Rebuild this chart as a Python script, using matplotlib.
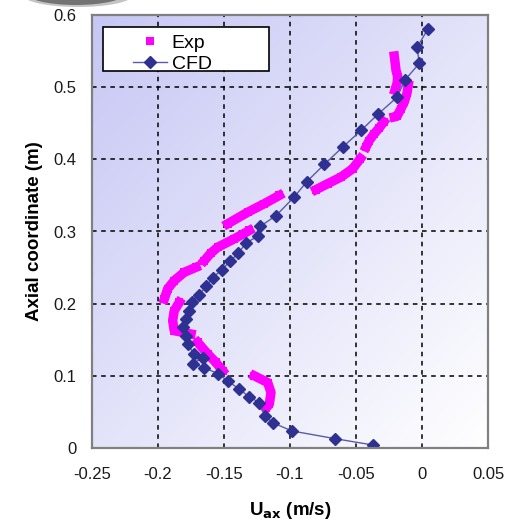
import numpy as np
import matplotlib
matplotlib.use("Agg")
import matplotlib.pyplot as plt
from matplotlib.patches import Rectangle, Ellipse
from matplotlib.lines import Line2D

plt.rcParams['font.family'] = ['Liberation Sans', 'DejaVu Sans']

# ---- data ----
cfd_u = [0.0043, -0.0038, -0.0020, -0.0129, -0.0189, -0.0331, -0.0462, -0.0601,
         -0.0740, -0.0873, -0.0967, -0.1106, -0.1227, -0.1240, -0.1333, -0.1392,
         -0.1452, -0.1517, -0.1586, -0.1636, -0.1687, -0.1745, -0.1763, -0.1788,
         -0.1808, -0.1788, -0.1775, -0.1725, -0.1661, -0.1737, -0.1649, -0.1543,
         -0.1472, -0.1384, -0.1308, -0.1233, -0.1189, -0.1131, -0.0985, -0.0657,
         -0.0374]
cfd_z = [0.580, 0.555, 0.533, 0.510, 0.486, 0.463, 0.440, 0.417,
         0.393, 0.369, 0.348, 0.322, 0.307, 0.294, 0.284, 0.270,
         0.259, 0.247, 0.236, 0.224, 0.2125, 0.202, 0.190, 0.179,
         0.167, 0.1556, 0.144, 0.130, 0.125, 0.117, 0.1115, 0.1025,
         0.093, 0.0815, 0.0708, 0.063, 0.0444, 0.035, 0.0236, 0.0129,
         0.0042]

# Experimental profile, read as dense runs (NaN separates runs)
nan = np.nan
exp_u = [-0.0210, -0.0197, -0.0184, -0.0189, -0.0205, nan,
         -0.0104, -0.0114, -0.0134, -0.0159, -0.0189, -0.0210, nan,
         -0.0290, -0.0326, -0.0361, -0.0400, -0.0424, nan,
         -0.0467, -0.0525, -0.0614, -0.0714, -0.0803, nan,
         -0.1081, -0.1195, -0.1320, -0.1472, nan,
         -0.1308, -0.1422, -0.1548, -0.1600, -0.1649, nan,
         -0.1712, -0.1801, -0.1877, -0.1927, -0.1952, nan,
         -0.1839, -0.1877, -0.1889, -0.1877, -0.1750, nan,
         -0.1699, -0.1623, -0.1561, -0.1510, nan,
         -0.1270, -0.1169, -0.1144, -0.1157, -0.1182]
exp_z = [0.5431, 0.5236, 0.5143, 0.5051, 0.4958, nan,
         0.5028, 0.4913, 0.4796, 0.4704, 0.4597, 0.4588, nan,
         0.4518, 0.4430, 0.4357, 0.4260, 0.4171, nan,
         0.4010, 0.3870, 0.3754, 0.3663, 0.3580, nan,
         0.3500, 0.3385, 0.3268, 0.3107, nan,
         0.3014, 0.2899, 0.2782, 0.2700, 0.2597, nan,
         0.2504, 0.2435, 0.2319, 0.2204, 0.2065, nan,
         0.2018, 0.1903, 0.1764, 0.1625, 0.1580, nan,
         0.1463, 0.1301, 0.1185, 0.1070, nan,
         0.1000, 0.0907, 0.0768, 0.0607, 0.0551]

x_ticks = [-0.25, -0.2, -0.15, -0.1, -0.05, 0, 0.05]
x_ticklabels = ['-0.25', '-0.2', '-0.15', '-0.1', '-0.05', '0', '0.05']
y_ticks = [0, 0.1, 0.2, 0.3, 0.4, 0.5, 0.6]
y_ticklabels = ['0', '0.1', '0.2', '0.3', '0.4', '0.5', '0.6']

W, H = 514, 521
fig = plt.figure(figsize=(W / 100, H / 100), dpi=100)
fig.patch.set_facecolor('white')

# grey swoosh at top-left
fig.patches.append(Ellipse((78 / W, 1 - (-5) / H), 110 / W, 24 / H,
                           transform=fig.transFigure, facecolor='#c4c4c4',
                           edgecolor='none', zorder=0))
fig.patches.append(Ellipse((76 / W, 1 - (-7) / H), 100 / W, 24 / H,
                           transform=fig.transFigure, facecolor='#737373',
                           edgecolor='none', zorder=0))

ax = fig.add_axes([92 / W, 1 - 448 / H, 396 / W, 433 / H])

# gradient background
c0 = np.array([0.78, 0.78, 0.96])
c1 = np.array([1.0, 1.0, 1.0])
n = 200
xx, yy = np.meshgrid(np.linspace(0, 1, n), np.linspace(1, 0, n))
t = np.clip((xx + (1 - yy)) / 2.0, 0, 1)
img = c0[None, None, :] * (1 - t[..., None]) + c1[None, None, :] * t[..., None]
ax.imshow(img, extent=[-0.25, 0.05, 0, 0.6], aspect='auto', zorder=0,
          interpolation='bilinear')

ax.set_xlim(-0.25, 0.05)
ax.set_ylim(0, 0.6)
ax.set_xticks(x_ticks)
ax.set_xticklabels(x_ticklabels)
ax.set_yticks(y_ticks)
ax.set_yticklabels(y_ticklabels)
ax.tick_params(axis='both', length=0, labelsize=12, colors='#1a1a1a')
ax.tick_params(axis='x', pad=14)
ax.tick_params(axis='y', pad=11)
ax.grid(True, color='black', linestyle=(0, (3, 3)), linewidth=1.1, zorder=1)
ax.set_axisbelow(False)
for s in ax.spines.values():
    s.set_color('#808080')
    s.set_linewidth(1.6)
    s.set_zorder(5)

# Experimental data: dense magenta squares forming thick band
ax.plot(exp_u, exp_z, color='#ff00ff', linewidth=6.8, solid_capstyle='projecting',
        solid_joinstyle='round', zorder=3)
ax.plot(exp_u, exp_z, linestyle='none', marker='s', markersize=6.2,
        color='#ff00ff', markeredgewidth=0, zorder=3)

# CFD
ax.plot(cfd_u, cfd_z, color='#5a5aa8', linewidth=1.0, marker='D', markersize=6,
        markerfacecolor='#2e3192', markeredgecolor='#2e3192', zorder=4)

ax.set_xlabel(r'U$_{\mathbf{ax}}$ (m/s)', fontsize=13.5, fontweight='bold')
ax.set_ylabel('Axial coordinate (m)', fontsize=13.5, fontweight='bold')
ax.xaxis.set_label_coords(0.5, -(500 - 448) / 433)
ax.yaxis.set_label_coords(-(92 - 43) / 396, 0.5)

# legend box
ax.add_patch(Rectangle((11 / 396, (448 - 71) / 433), 166 / 396, 44 / 433,
                       transform=ax.transAxes, facecolor='white',
                       edgecolor='black', linewidth=1.2, zorder=6))
h_exp = Line2D([], [], linestyle='none', marker='s', markersize=6,
               color='#ff00ff', markeredgewidth=0)
h_cfd = Line2D([], [], color='#5a5aa8', linewidth=1.0, marker='D', markersize=6,
               markerfacecolor='#2e3192', markeredgecolor='#2e3192')
leg = ax.legend([h_exp, h_cfd], ['Exp', 'CFD'], loc='upper left',
                bbox_to_anchor=(40 / 396, (448 - 33) / 433), frameon=False,
                fontsize=14, handlelength=1.75, handletextpad=0.25,
                labelspacing=0.2, borderpad=0.05, borderaxespad=0)
leg.set_zorder(7)

fig.savefig('out.png', dpi=100)
